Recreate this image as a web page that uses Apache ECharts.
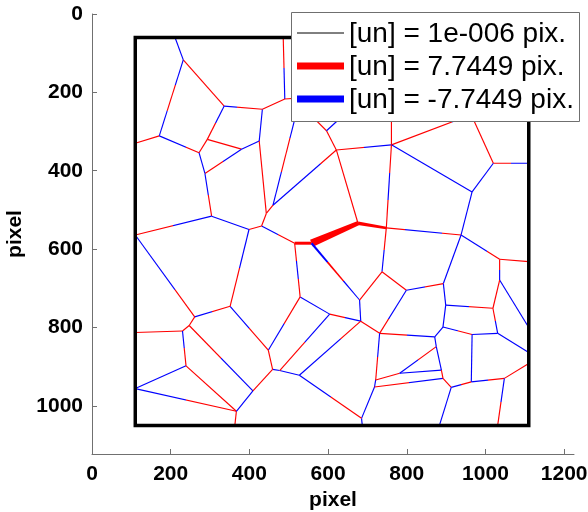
<!DOCTYPE html>
<html><head><meta charset="utf-8">
<script src="https://cdn.jsdelivr.net/npm/echarts@6/dist/echarts.min.js"></script>
<style>html,body{margin:0;padding:0;background:#fff}#c{width:588px;height:512px}</style>
</head><body><div id="c"></div>
<script>
// ---- data (pixel units of the analysed image) ----
const xTicks = [0, 200, 400, 600, 800, 1000, 1200];
const yTicks = [0, 200, 400, 600, 800, 1000];
const legendLabels = ['[un] = 1e-006 pix.', '[un] = 7.7449 pix.', '[un] = -7.7449 pix.'];
// region boundary (closed)
const boundaryX = [110, 1110, 1110, 110, 110];
const boundaryY = [60, 60, 1050, 1050, 60];
// mesh nodes
const nodeIds = ['tb1','tb2','A','B','C','lb1','D','G','H','I','J','E','F1','F1r','K','L','Lp','Lup','M',
  'N','Nup','Nl','Nr','O','Ou','Our','Pu','P','Pr','Q','R','S','T','AA','AAr','U','Ur','V','W','J2','H2','I2',
  'X','K2','Y','Z','Zr','V3','G2','F2','TH1','A2p','A2','B2','E2','C2','Y1','Z1','Q1','P1','R1','S1','T1','lb3',
  'U1','lb4','W1','W1b','X1','lb2','D2','D2b','Q2','P2','N2','M2','O2','L2','R2','R2b','Y2','Z2','Z2r','Z2b'];
const nodeX = [211,486,232,336,171,110,272,293,380,287,425,433,490,560,304,443,460,525,431,
  621,596,548,648,761,761,990,956,1020,1110,966,676,748,938,1036,1110,1036,1110,1019,899,893,799,737,
  892,871,966,1031,1110,731,680,683,558,515,529,604,477,527,459,448,351,399,261,247,230,110,
  239,110,367,363,409,110,685,687,718,721,782,875,888,892,913,883,964,1048,1110,1031];
const nodeY = [60,60,117,235,311,330,354,320,345,407,324,243,217,212,516,509,488,230,541,
  347,298,250,250,334,250,247,240,381,381,454,534,546,564,626,632,679,800,751,743,688,705,658,
  799,824,818,815,864,815,730,784,585,585,722,766,910,922,907,858,746,550,773,795,809,813,
  898,956,1014,1050,962,564,1032,1050,952,934,917,849,909,930,953,1050,939,930,892,1050];
// edges: [from, to, colour pattern along the edge (r = positive, b = negative), width at start, width at end]
const edges = [
  ['tb1','A','b'],['A','B','r'],['A','C','brb'],['C','lb1','r'],['C','D','bbr'],['B','G','br'],
  ['G','D','r'],['G','H','r'],['B','E','brr'],['E','J','b'],['J','H','b'],['H','I','br'],['D','I','b'],
  ['I','K','br'],['J','L','r'],['E','F1','r'],['tb2','F1','rb'],['F1','F1r','r'],['Lp','Lup','brb'],
  ['N','Lp','rbbb'],['N','Nup','r'],['Nup','Nl','rb'],['Nup','Nr','b'],['N','O','rb'],['O','Ou','r'],
  ['O','Our','rrb'],['Pu','P','r'],['P','Pr','rb'],['O','Q','b'],['P','Q','b'],['Q','T','b'],['N','R','r'],
  ['O','S','rbr'],
  ['A2p','TH1','r',3,3],['TH1','R','r',7.5,4.5],['R','S','r',3.5,2.5],['TH1','G2','brb',2.2,1],
  ['S','T','rbbr'],['T','AA','bbr'],['AA','AAr','r'],['AA','U','rb'],['U','Ur','b'],['U','V','r'],
  ['T','J2','b'],['S','I2','rb'],['I2','H2','r'],['H2','J2','br'],['G2','I2','r'],['H2','V3','bbr'],
  ['J2','W','b'],['W','V','br'],['V','Z','rb'],['W','X','b'],['X','K2','b'],['X','Y','br'],['Y','Z','b'],
  ['Z','Zr','b'],['Y','Y2','b'],['Y2','Z2','br'],['Z2','Z2r','r'],['Z2','Z2b','br'],['K2','V3','br'],
  ['F2','V3','r'],['B2','F2','rb'],['G2','F2','b'],['F2','C2','rbb'],['V3','P2','br'],['P2','Q2','b'],
  ['Q2','D2','b'],['Q2','L2','rb'],['P2','N2','r'],['N2','O2','b'],['M2','N2','rb'],['K2','M2','b'],
  ['M2','O2','b'],['O2','L2','r'],['L2','R2','r'],['R2','Y2','br'],['R2','R2b','b'],['D2','D2b','b'],
  ['C2','D2','br'],['C2','E2','b'],['E2','Y1','b'],['E2','B2','rb'],['A2','B2','b'],['A2','Z1','rb'],
  ['A2p','A2','rbr'],['M','A2p','br'],['Z1','Y1','r'],['Q1','Z1','br'],['P1','Q1','br'],['M','P1','r'],
  ['K','P1','b'],['L','M','r'],['L','Lp','r'],['K','lb2','br'],['lb2','R1','bbr'],['R1','Q1','br'],
  ['R1','S1','r'],['S1','T1','r'],['S1','X1','rb'],['T1','lb3','r'],['T1','U1','br'],['U1','lb4','b'],
  ['U1','W1','r'],['lb4','W1','br'],['W1','W1b','r'],['X1','W1','b'],['Y1','X1','r']
];

// ---- build ----
const RED = '#ff0000', BLUE = '#0000ff';
const idx = {};
nodeIds.forEach((n, i) => idx[n] = i);
const edgeData = edges.map(e => [nodeX[idx[e[0]]], nodeY[idx[e[0]]], nodeX[idx[e[1]]], nodeY[idx[e[1]]]]);
const boundaryData = boundaryX.map((x, i) => [x, boundaryY[i]]);

const FONT = '"Liberation Sans", Arial, Helvetica, sans-serif';
const chart = echarts.init(document.getElementById('c'), null, {renderer: 'canvas'});

function renderEdge(params, api) {
  const e = edges[params.dataIndex];
  const p1 = api.coord([api.value(0), api.value(1)]);
  const p2 = api.coord([api.value(2), api.value(3)]);
  const pat = e[2], n = pat.length;
  const stops = [];
  for (let i = 0; i < n; i++) {
    const c = pat[i] === 'r' ? RED : BLUE;
    stops.push({offset: i / n, color: c}, {offset: (i + 1) / n, color: c});
  }
  const grad = new echarts.graphic.LinearGradient(p1[0], p1[1], p2[0], p2[1], stops, true);
  const w1 = e[3] || 1.15, w2 = e[4] || w1;
  if (w1 === w2 && w1 <= 3.5) {
    return {type: 'line', shape: {x1: p1[0], y1: p1[1], x2: p2[0], y2: p2[1]},
            style: {stroke: grad, lineWidth: w1, fill: null}};
  }
  const dx = p2[0] - p1[0], dy = p2[1] - p1[1], len = Math.hypot(dx, dy) || 1;
  const nx = -dy / len, ny = dx / len;
  return {type: 'polygon', shape: {points: [
      [p1[0] + nx * w1 / 2, p1[1] + ny * w1 / 2], [p2[0] + nx * w2 / 2, p2[1] + ny * w2 / 2],
      [p2[0] - nx * w2 / 2, p2[1] - ny * w2 / 2], [p1[0] - nx * w1 / 2, p1[1] - ny * w1 / 2]]},
    style: {fill: grad, stroke: null}};
}

const axisCommon = {
  type: 'value',
  axisLine: {show: true, onZero: false, lineStyle: {color: '#707070', width: 1}},
  axisTick: {show: true, inside: true, length: 5, lineStyle: {color: '#707070'}},
  splitLine: {show: false},
  nameLocation: 'middle',
  nameTextStyle: {fontFamily: FONT, fontWeight: 'bold', fontSize: 21, color: '#000'}
};

const legendChildren = [
  {type: 'rect', z: 100, zlevel: 1, shape: {x: 291.5, y: 12.5, width: 288, height: 109},
   style: {fill: '#fff', stroke: '#6f6f6f', lineWidth: 1}},
  {type: 'line', z: 101, zlevel: 1, shape: {x1: 297, y1: 33, x2: 344, y2: 33}, style: {stroke: '#000', lineWidth: 1}},
  {type: 'line', z: 101, zlevel: 1, shape: {x1: 297, y1: 66, x2: 344, y2: 66}, style: {stroke: RED, lineWidth: 7}},
  {type: 'line', z: 101, zlevel: 1, shape: {x1: 297, y1: 99, x2: 344, y2: 99}, style: {stroke: BLUE, lineWidth: 7}}
];
legendLabels.forEach((t, i) => legendChildren.push({
  type: 'text', z: 101, zlevel: 1, x: 349, y: 34.5 + 33 * i,
  style: {text: t, font: '28px ' + FONT, fill: '#000', align: 'left', verticalAlign: 'middle'}
}));

chart.setOption({
  animation: false,
  backgroundColor: '#fff',
  grid: {left: 92, top: 14, width: 482, height: 440, containLabel: false, outerBoundsMode: 'none'},
  xAxis: Object.assign({}, axisCommon, {
    min: 0, max: 1225, position: 'bottom', name: 'pixel', nameGap: 31,
    axisTick: Object.assign({}, axisCommon.axisTick, {customValues: xTicks}),
    axisLabel: {customValues: xTicks, formatter: v => String(v), fontFamily: FONT, fontWeight: 'bold',
                fontSize: 21, color: '#000', margin: 10}
  }),
  yAxis: Object.assign({}, axisCommon, {
    min: 0, max: 1123, inverse: true, name: 'pixel', nameGap: 56,
    axisTick: Object.assign({}, axisCommon.axisTick, {customValues: yTicks}),
    axisLabel: {customValues: yTicks, formatter: v => String(v), fontFamily: FONT, fontWeight: 'bold',
                fontSize: 21, color: '#000', margin: 9}
  }),
  series: [
    {type: 'custom', data: edgeData, renderItem: renderEdge, encode: {x: [0, 2], y: [1, 3]}, z: 3, silent: true},
    {type: 'line', data: boundaryData, showSymbol: false, symbol: 'none', z: 4, silent: true,
     lineStyle: {color: '#000', width: 3.5, cap: 'square', join: 'miter'}}
  ],
  graphic: [{type: 'group', z: 100, zlevel: 1, children: legendChildren}]
});
</script></body></html>
